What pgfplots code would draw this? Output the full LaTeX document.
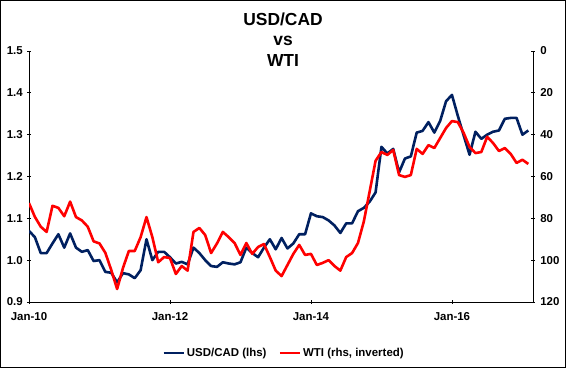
\documentclass[border=0pt]{standalone}
\usepackage{fontspec}
\setmainfont{Liberation Sans}
\usepackage{pgfplots}
\pgfplotsset{compat=1.18}
\usepackage{pgfplotstable}
\definecolor{navy}{RGB}{0,32,96}
\definecolor{wtired}{RGB}{255,0,0}

\pgfplotstableread{
m v
0 1.070
1 1.055
2 1.017
3 1.017
4 1.040
5 1.062
6 1.030
7 1.064
8 1.030
9 1.020
10 1.024
11 0.998
12 1.000
13 0.972
14 0.970
15 0.947
16 0.969
17 0.966
18 0.957
19 0.976
20 1.050
21 1.000
22 1.020
23 1.020
24 1.007
25 0.992
26 0.996
27 0.990
28 1.030
29 1.017
30 1.000
31 0.986
32 0.984
33 0.995
34 0.992
35 0.990
36 0.995
37 1.030
38 1.017
39 1.007
40 1.030
41 1.050
42 1.026
43 1.053
44 1.028
45 1.040
46 1.062
47 1.062
48 1.112
49 1.105
50 1.103
51 1.095
52 1.083
53 1.065
54 1.088
55 1.088
56 1.117
57 1.125
58 1.140
59 1.162
60 1.271
61 1.255
62 1.266
63 1.210
64 1.243
65 1.248
66 1.305
67 1.309
68 1.330
69 1.305
70 1.333
71 1.380
72 1.395
73 1.345
74 1.298
75 1.252
76 1.307
77 1.290
78 1.300
79 1.307
80 1.310
81 1.338
82 1.340
83 1.340
84 1.300
85 1.310
}\usdcad

\pgfplotstableread{
m w
0 72.7
1 79.3
2 84.0
3 86.5
4 74.0
5 75.0
6 79.0
7 72.0
8 79.4
9 81.0
10 84.0
11 91.0
12 92.0
13 96.5
14 104.7
15 113.8
16 103.7
17 95.6
18 95.6
19 89.0
20 79.4
21 89.0
22 101.0
23 98.5
24 99.0
25 106.6
26 102.8
27 105.0
28 86.5
29 84.6
30 88.0
31 96.6
32 92.0
33 86.5
34 89.0
35 91.8
36 97.5
37 91.8
38 97.0
39 93.7
40 92.3
41 98.5
42 105.0
43 107.6
44 102.3
45 97.0
46 92.7
47 97.5
48 97.0
49 102.3
50 101.3
51 100.0
52 102.8
53 105.0
54 98.5
55 96.6
56 91.8
57 81.5
58 67.0
59 52.5
60 48.3
61 49.7
62 47.3
63 59.3
64 60.2
65 59.3
66 46.8
67 49.2
68 45.0
69 46.4
70 41.6
71 36.8
72 33.5
73 34.0
74 39.2
75 45.9
76 48.8
77 48.3
78 41.0
79 44.0
80 47.8
81 46.4
82 49.2
83 53.5
84 52.0
85 54.0
}\wti

\begin{document}
\begin{tikzpicture}[x=1bp,y=1bp]
\useasboundingbox (0,0) rectangle (566,368);
\draw[line width=1.4bp] (0.7,0.7) rectangle (565.3,367.3);

\pgfplotsset{
  common/.style={
    scale only axis,
    width=504bp, height=251bp,
    at={(29bp,66bp)}, anchor=south west,
    xmin=0, xmax=85.8,
    /pgf/number format/assume math mode=true,
    ticklabel style={font=\bfseries\fontsize{11.5}{13}\selectfont},
    tick style={black, line width=0.8bp},
    major tick length=3.5bp,
    tick align=outside,
    axis line style={black, line width=0.9bp},
  }
}

\begin{axis}[common,
  axis x line=bottom, axis y line=left,
  x axis line style={-}, y axis line style={-},
  xtick={0,24,48,72},
  xticklabels={Jan-10,Jan-12,Jan-14,Jan-16},
  ymin=0.9, ymax=1.5,
  ytick={0.9,1.0,1.1,1.2,1.3,1.4,1.5},
  yticklabel={\pgfmathprintnumber[fixed,fixed zerofill,precision=1,assume math mode=true]{\tick}},
  yticklabel style={xshift=-1bp},
  xticklabel style={yshift=-5bp},
  legend columns=2,
  legend style={draw=none, fill=none, at={(0.506,-0.203)}, anchor=center,
    font=\bfseries\fontsize{11.5}{13}\selectfont,
    /tikz/every even column/.append style={column sep=10bp},
    inner sep=0pt},
  legend image code/.code={\draw[#1] (0bp,0bp) -- (20bp,0bp);},
]
\addplot[navy, line width=2.6bp, line join=round] table[x=m, y=v] {\usdcad};
\addlegendentry{USD/CAD (lhs)}
\addlegendimage{wtired, line width=2.6bp}
\addlegendentry{WTI (rhs, inverted)}
\end{axis}

\begin{axis}[common,
  axis x line=none, axis y line=right,
  y axis line style={-},
  y dir=reverse,
  ymin=0, ymax=120,
  ytick={0,20,40,60,80,100,120},
  yticklabel style={xshift=2bp},
]
\addplot[wtired, line width=2.6bp, line join=round] table[x=m, y=w] {\wti};
\end{axis}

\node[anchor=base, font=\bfseries\fontsize{17.5}{20}\selectfont] at (283,343) {USD/CAD};
\node[anchor=base, font=\bfseries\fontsize{17.5}{20}\selectfont] at (283,323) {vs};
\node[anchor=base, font=\bfseries\fontsize{17.5}{20}\selectfont] at (283,301.5) {WTI};
\end{tikzpicture}
\end{document}
